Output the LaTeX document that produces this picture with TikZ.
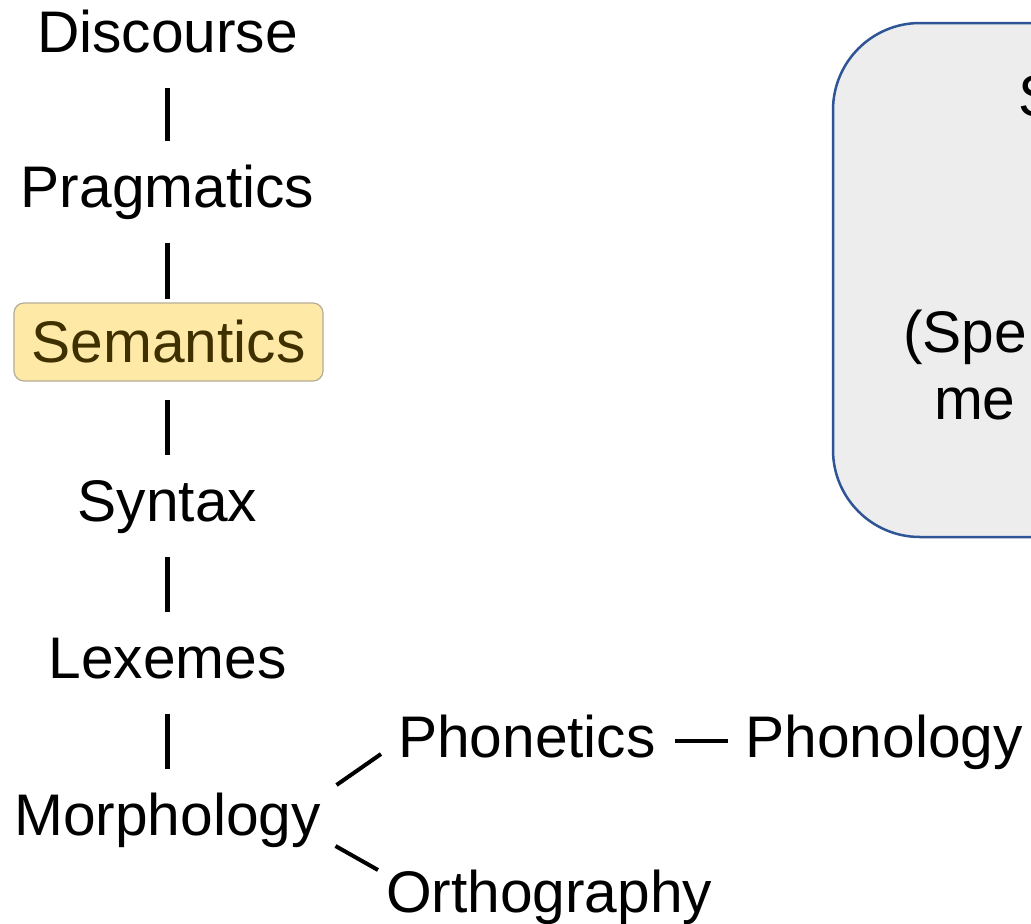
\documentclass[tikz,border=0pt]{standalone}
\usepackage{fontspec}
\setmainfont{Liberation Sans}
\definecolor{panelfill}{HTML}{EDEDED}
\definecolor{panelrule}{HTML}{2F5597}
\definecolor{hlfill}{HTML}{FFE9A6}
\definecolor{hlrule}{HTML}{B4AC96}
\definecolor{hltext}{HTML}{3F3000}
\tikzset{
  lbl/.style={inner sep=0pt, outer sep=0pt, font=\fontsize{58.9}{67}\selectfont, anchor=base},
  lblw/.style={lbl, anchor=base west},
  hlbox/.style={lbl, anchor=center, fill=hlfill, draw=hlrule, line width=1.2bp,
    rounded corners=10bp, minimum width=309bp, minimum height=78bp, text=hltext},
  bar/.style={line width=5bp, black},
  link/.style={line width=4bp, black},
  panel/.style={fill=panelfill, draw=panelrule, line width=2.5bp, rounded corners=87bp}
}
\begin{document}
\begin{tikzpicture}[x=1bp,y=-1bp]
\useasboundingbox (0,0) rectangle (1031,924);
\clip (0,0) rectangle (1031,924);

% panel on the right, running past the edge
\path[panel] (833,23) rectangle (1400,537);
\node[lblw] (pS)   at (1018,116) {S};
\node[lblw] (pSpe) at (903,352)  {(Spe};
\node[lblw] (pme)  at (934,419)  {me};

% the column of levels
\node[lbl] (dis)   at (167.5,52)  {Discourse};
\node[lbl] (prag)  at (167.5,207) {Pragmatics};
\node[hlbox] (sem) at (168.5,342) {Semantics};
\node[lbl] (syn)   at (167.5,521) {Syntax};
\node[lbl] (lex)   at (167.5,678) {Lexemes};
\node[lbl] (morph) at (167.5,835) {Morphology};

% branches
\node[lblw] (phonet) at (398,757)   {Phonetics};
\node[lblw] (phonol) at (745.5,757) {Phonology};
\node[lblw] (ortho)  at (386,912)   {Orthography};

% vertical links
\draw[bar] ([yshift=-36bp]dis.base)  -- ([yshift=66bp]prag.base);
\draw[bar] ([yshift=-36bp]prag.base) -- ([shift={(-1bp,43bp)}]sem.center);
\draw[bar] ([shift={(-1bp,-58bp)}]sem.center) -- ([yshift=66bp]syn.base);
\draw[bar] ([yshift=-36bp]syn.base)  -- ([yshift=66bp]lex.base);
\draw[bar] ([yshift=-36bp]lex.base)  -- ([yshift=66bp]morph.base);

% branch links
\draw[link] ([shift={(15.7bp,50bp)}]morph.base east) -- ([shift={(-17bp,3bp)}]phonet.base west);
\draw[link] ([shift={(14.7bp,-11bp)}]morph.base east) -- ([shift={(-8bp,42bp)}]ortho.base west);
\draw[link, shorten <=19.2bp, shorten >=17.5bp]
  ([yshift=16bp]phonet.base east) -- ([yshift=16bp]phonol.base west);
\end{tikzpicture}
\end{document}
